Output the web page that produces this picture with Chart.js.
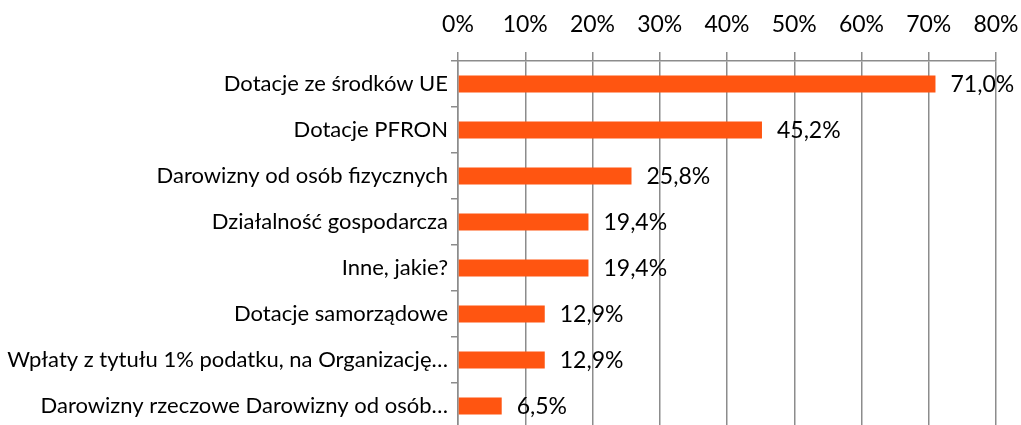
<!DOCTYPE html>
<html><head><meta charset="utf-8">
<script src="https://cdn.jsdelivr.net/npm/chart.js@4"></script>
<style>html,body{margin:0;padding:0;background:#fff;overflow:hidden}canvas{display:block}</style>
</head><body><canvas id="c" width="1021" height="430" style="width:1021px;height:430px"></canvas>
<script>
const categories = ["Dotacje ze środków UE","Dotacje PFRON","Darowizny od osób fizycznych","Działalność gospodarcza","Inne, jakie?","Dotacje samorządowe","Wpłaty z tytułu 1% podatku, na Organizację…","Darowizny rzeczowe Darowizny od osób…"];
const values = [71.0,45.2,25.8,19.4,19.4,12.9,12.9,6.5];
const valueLabels = ["71,0%","45,2%","25,8%","19,4%","19,4%","12,9%","12,9%","6,5%"];
const FONT = "Lato, 'Open Sans', sans-serif";
const GRID = '#8c8c8c';
const labelPlugin = {id:'vals',afterDatasetsDraw(chart){const ctx=chart.ctx;const meta=chart.getDatasetMeta(0);ctx.save();ctx.font='23px '+FONT;ctx.fillStyle='#000';ctx.textBaseline='middle';ctx.textAlign='left';meta.data.forEach((el,i)=>{ctx.fillText(valueLabels[i],el.x+15,el.y+1);});ctx.restore();}};
new Chart(document.getElementById('c'),{type:'bar',data:{labels:categories,datasets:[{data:values,backgroundColor:'#FF5511',borderWidth:0,barPercentage:0.74,categoryPercentage:0.5}]},
options:{indexAxis:'y',responsive:false,maintainAspectRatio:false,animation:false,layout:{padding:{right:25,left:0,top:0,bottom:1}},
plugins:{legend:{display:false},tooltip:{enabled:false}},
scales:{x:{position:'top',min:0,max:80,ticks:{stepSize:10,callback:v=>v+'%',color:'#000',font:{family:FONT,size:23},padding:14},grid:{color:GRID,lineWidth:1.5,tickLength:9},border:{color:GRID,width:1.5},afterFit(s){s.height=61;s.paddingLeft=0;s.paddingRight=0;s.paddingTop=0;s.paddingBottom=0;}},
y:{ticks:{color:'#000',font:{family:FONT,size:22},padding:3},grid:{drawOnChartArea:false,color:GRID,lineWidth:1.5,tickLength:7,offset:true},border:{color:GRID,width:1.5},afterFit(s){s.width=458;s.paddingLeft=0;s.paddingRight=0;s.paddingTop=0;s.paddingBottom=0;}}}},
plugins:[labelPlugin]});
</script></body></html>
